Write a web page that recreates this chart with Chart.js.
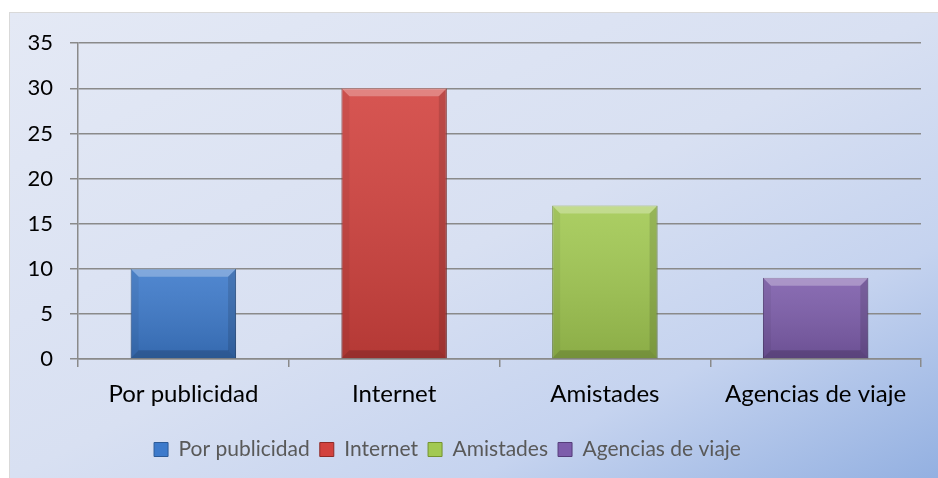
<!DOCTYPE html>
<html>
<head>
<meta charset="utf-8">
<script src="https://cdn.jsdelivr.net/npm/chart.js@4.4.1/dist/chart.umd.min.js"></script>
<style>
    html, body { margin: 0; padding: 0; background: #fff; }
    #box {
        position: absolute; left: 9px; top: 12px; width: 929px; height: 466px;
        box-sizing: border-box; border-left: 1px solid #d9d9d9; border-top: 1px solid #d9d9d9;
        background: linear-gradient(to bottom right, #e4e9f5 0%, #d8e0f2 50%, #c5d3ef 75%, #93b0e1 100%);
    }
    #box canvas { position: absolute; left: 0; top: 0; }
</style>
</head>
<body>
<div id="box"><canvas id="chart" width="928" height="465"></canvas></div>
<script>
const categories = ['Por publicidad', 'Internet', 'Amistades', 'Agencias de viaje'];
const values = [10, 30, 17, 9];
const yMin = 0;
const yMax = 35;
const yStep = 5;

const barColors = ['#3d7acb', '#d2423e', '#a2c952', '#7d5dab'];
const barEdges = ['#2c5a97', '#8f2a27', '#74932f', '#553d7a'];
const gridColor = '#8a8a8a';

// bevel look of the office bars, drawn on top of each bar
const bevel = {
    id: 'bevel',
    afterDatasetsDraw(chart) {
        const c = chart.ctx;
        const meta = chart.getDatasetMeta(0);
        meta.data.forEach((bar) => {
            const { x, y, base, width } = bar.getProps(['x', 'y', 'base', 'width'], true);
            const l = x - width / 2, r = x + width / 2, t = y, b = base;
            const d = Math.min(8, (b - t) / 2);
            c.save();
            const g = c.createLinearGradient(0, t, 0, b);
            g.addColorStop(0, 'rgba(255,255,255,0.10)');
            g.addColorStop(1, 'rgba(0,0,0,0.14)');
            c.fillStyle = g;
            c.fillRect(l, t, r - l, b - t);
            const poly = (pts, fill) => {
                c.beginPath();
                c.moveTo(pts[0][0], pts[0][1]);
                pts.slice(1).forEach((p) => c.lineTo(p[0], p[1]));
                c.closePath();
                c.fillStyle = fill;
                c.fill();
            };
            poly([[l, t], [r, t], [r - d, t + d], [l + d, t + d]], 'rgba(255,255,255,0.28)');
            poly([[l, b], [r, b], [r - d, b - d], [l + d, b - d]], 'rgba(0,0,0,0.16)');
            poly([[l, t], [l + d, t + d], [l + d, b - d], [l, b]], 'rgba(0,0,0,0.05)');
            poly([[r, t], [r - d, t + d], [r - d, b - d], [r, b]], 'rgba(0,0,0,0.12)');
            c.restore();
        });
    },
};

// nudge the legend row to where the reference has it
const legendShift = {
    id: 'legendShift',
    afterLayout(chart) {
        const lg = chart.legend;
        const dx = 437.5 - (lg.left + lg.right) / 2;
        lg.left += dx;
        lg.right += dx;
    },
};

new Chart(document.getElementById('chart'), {
    type: 'bar',
    data: {
        labels: categories,
        datasets: [{
            data: values,
            backgroundColor: barColors,
            borderColor: barEdges,
            borderWidth: 1,
            categoryPercentage: 1,
            barPercentage: 0.5,
        }],
    },
    plugins: [bevel, legendShift],
    options: {
        responsive: false,
        animation: false,
        devicePixelRatio: 1,
        layout: { padding: { left: 0, right: 17, top: 29, bottom: 8 } },
        plugins: {
            tooltip: { enabled: false },
            legend: {
                position: 'bottom',
                labels: {
                    font: { family: 'Lato', size: 21 },
                    color: '#595959',
                    boxWidth: 14,
                    boxHeight: 14,
                    padding: 10,
                    generateLabels: () => categories.map((name, i) => ({
                        text: name,
                        fillStyle: barColors[i],
                        strokeStyle: barEdges[i],
                        lineWidth: 1,
                        fontColor: '#595959',
                        hidden: false,
                        datasetIndex: 0,
                        index: i,
                    })),
                },
            },
        },
        scales: {
            x: {
                afterFit: (scale) => { scale.height = 70; },
                grid: {
                    offset: true,
                    drawOnChartArea: false,
                    drawTicks: true,
                    tickLength: 8,
                    color: gridColor,
                    lineWidth: 1.5,
                },
                border: { display: true, color: gridColor, width: 1.5 },
                ticks: {
                    font: { family: 'Lato', size: 24 },
                    color: '#000',
                    padding: 13,
                    maxRotation: 0,
                },
            },
            y: {
                min: yMin,
                max: yMax,
                afterFit: (scale) => { scale.width = 68; },
                grid: {
                    color: gridColor,
                    lineWidth: 1.5,
                    tickLength: 8,
                },
                border: { display: true, color: gridColor, width: 1.5 },
                ticks: {
                    stepSize: yStep,
                    font: { family: 'Lato', size: 22 },
                    color: '#000',
                    padding: 17,
                },
            },
        },
    },
});
</script>
</body>
</html>
